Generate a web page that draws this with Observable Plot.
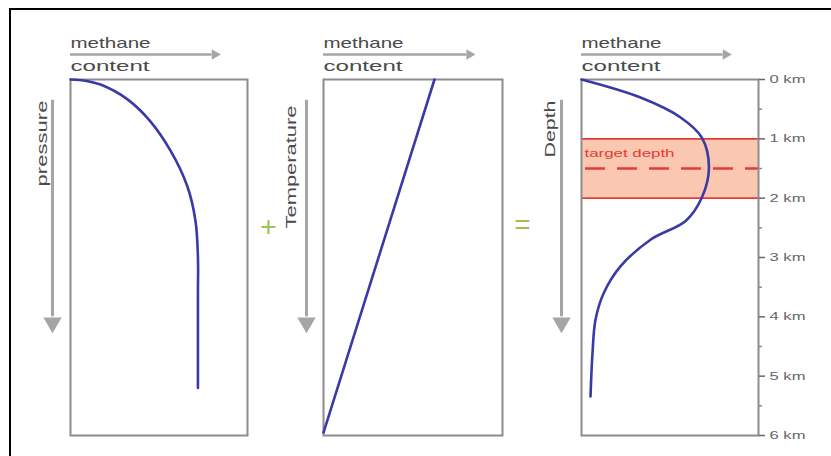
<!DOCTYPE html>
<html><head><meta charset="utf-8">
<script src="https://cdn.jsdelivr.net/npm/d3@7"></script>
<script src="https://cdn.jsdelivr.net/npm/@observablehq/plot@0.6"></script>
<style>
body{margin:0;background:#fff;}
#chart{position:relative;width:831px;height:456px;overflow:hidden;background:#fff;font-family:"Liberation Sans",Arial,sans-serif;}
#chart svg{position:absolute;left:0;top:0;}
#border{position:absolute;left:9px;top:8px;right:0;bottom:0;border-top:2px solid #000;border-left:2px solid #000;pointer-events:none;}
</style></head><body><div id="chart"><div id="border"></div></div>
<script>
// ---- data ----
const methaneDomain = [0, 100];
const depthDomain = [0, 6];
const depthTicks = [0, 1, 2, 3, 4, 5, 6];
const depthMinorTicks = [0.5, 1.5, 2.5, 3.5, 4.5, 5.5];
const depthUnit = "km";

const pressureDepth   = [0, 0.024, 0.085, 0.33, 0.7, 1.2, 1.8, 2.38, 3.0, 3.6, 5.2];
const pressureMethane = [0, 9, 17, 32, 45, 56.5, 66, 70.6, 72, 72, 72];

const temperatureDepth   = [0, 5.95];
const temperatureMethane = [62, 0];

const combinedDepth   = [0, 0.30, 0.64, 0.98, 1.48, 1.99, 2.38, 2.70, 3.15, 3.61, 4.05, 4.62, 5.34];
const combinedMethane = [0, 33, 56, 68, 72, 68, 59, 39, 22, 12.4, 7.9, 6.2, 5.1];

const targetBand = [1, 2];
const targetCentre = [1.5];
const targetLabel = "target depth";

const xLabelLines = ["methane", "content"];
const panelLabels = ["pressure", "Temperature", "Depth"];
const operators = ["+", "="];
const contentArrowEnd = 80;          // methane units
const depthArrowRange = [0.35, 4.0]; // km
const depthArrowTip = 4.1;

// ---- styles ----
const W = 831, H = 456;
const boxColor = "#8c8c8c", arrowColor = "#a5a5a5", textColor = "#4a4a4a";
const curveColor = "#3a3aa6", red = "#e53b34", bandFill = "#fac7b1", green = "#9ec14f";
const font = "Liberation Sans, Arial, sans-serif";

function panel({left, right, depth, methane, label, labelDx, labelDy, arrowDx, before = [], after = [], op, opDx, opDy, axis = false}) {
  const series = depth.map((d, i) => ({depth: d, methane: methane[i]}));
  const marks = [
    ...before,
    Plot.frame({stroke: boxColor, strokeWidth: 2}),
    Plot.line(series, {x: "methane", y: "depth", stroke: curveColor, strokeWidth: 2.6, curve: "catmull-rom"}),
    ...after,
    // methane content arrow
    Plot.ruleY([depthDomain[0]], {x1: () => methaneDomain[0], x2: () => contentArrowEnd, dy: -25, stroke: arrowColor, strokeWidth: 2.5}),
    Plot.dot([0], {x: () => contentArrowEnd + 1.5, y: () => depthDomain[0], dy: -25, symbol: "triangle", rotate: 90, r: 3.9, fill: arrowColor, stroke: "none"}),
    Plot.text([xLabelLines[0]], {frameAnchor: "top-left", dy: -36, textAnchor: "start", lineAnchor: "middle", fontSize: 15, fill: textColor}),
    Plot.text([xLabelLines[1]], {frameAnchor: "top-left", dy: -13, textAnchor: "start", lineAnchor: "middle", fontSize: 15, fill: textColor}),
    // depth-direction arrow
    Plot.ruleX([methaneDomain[0]], {y1: () => depthArrowRange[0], y2: () => depthArrowRange[1], dx: arrowDx, stroke: arrowColor, strokeWidth: 3}),
    Plot.dot([0], {x: () => methaneDomain[0], y: () => depthArrowTip, dx: arrowDx, symbol: "triangle", rotate: 180, r: 6.8, fill: arrowColor, stroke: "none"}),
    Plot.text([label], {frameAnchor: "top-left", dx: labelDx, dy: labelDy, rotate: -90, textAnchor: "end", lineAnchor: "middle", fontSize: 15, fill: textColor})
  ];
  if (op) marks.push(Plot.text([op], {frameAnchor: "left", dx: opDx, dy: opDy, textAnchor: "middle", lineAnchor: "middle", fontSize: 28, fill: green}));
  return Plot.plot({
    width: W, height: H,
    marginLeft: left, marginRight: W - right, marginTop: 79, marginBottom: 21,
    x: {domain: methaneDomain, axis: null},
    y: axis ? {domain: depthDomain, reverse: true} : {domain: depthDomain, reverse: true, axis: null},
    style: {background: "transparent", fontFamily: font, overflow: "visible"},
    marks
  });
}

const chart = document.getElementById("chart");

chart.appendChild(panel({
  left: 70, right: 247, depth: pressureDepth, methane: pressureMethane,
  label: panelLabels[0], labelDx: -28, labelDy: 21, arrowDx: -18
}));

chart.appendChild(panel({
  left: 323, right: 502, depth: temperatureDepth, methane: temperatureMethane,
  label: panelLabels[1], labelDx: -32, labelDy: 26, arrowDx: -17,
  op: operators[0], opDx: -55, opDy: -30
}));

chart.appendChild(panel({
  left: 581, right: 758, depth: combinedDepth, methane: combinedMethane,
  label: panelLabels[2], labelDx: -31, labelDy: 21, arrowDx: -20,
  op: operators[1], opDx: -59, opDy: -32, axis: true,
  before: [
    Plot.rect([targetBand], {x1: () => methaneDomain[0], x2: () => methaneDomain[1], y1: d => d[0], y2: d => d[1], fill: bandFill}),
    Plot.ruleY(targetBand, {stroke: red, strokeWidth: 1.6}),
    Plot.ruleY(targetCentre, {stroke: red, strokeWidth: 2.6, strokeDasharray: "20,12", strokeDashoffset: 28}),
    Plot.text([targetLabel], {x: () => methaneDomain[0], y: () => targetBand[0], dx: 3, dy: 15, textAnchor: "start", lineAnchor: "middle", fill: red, fontSize: 11})
  ],
  after: [
    Plot.axisY(depthTicks, {anchor: "right", tickSize: 6, tickPadding: 5, tickFormat: d => `${d} ${depthUnit}`, color: "#666", strokeWidth: 1.5, fontSize: 10.5, label: null}),
    Plot.axisY(depthMinorTicks, {anchor: "right", tickSize: 3, tickFormat: () => "", color: "#888", strokeWidth: 1.5, label: null})
  ]
}));

// stretched lettering as in the reference
const lengths = {methane: 80, content: 79, pressure: 86, Temperature: 123, Depth: 57, "target depth": 90};
d3.select(chart).selectAll("text").each(function() {
  const t = this.textContent.trim();
  let L = lengths[t];
  if (L == null && /km$/.test(t)) L = 36;
  if (L != null) { this.setAttribute("textLength", L); this.setAttribute("lengthAdjust", "spacingAndGlyphs"); }
});
</script></body></html>
